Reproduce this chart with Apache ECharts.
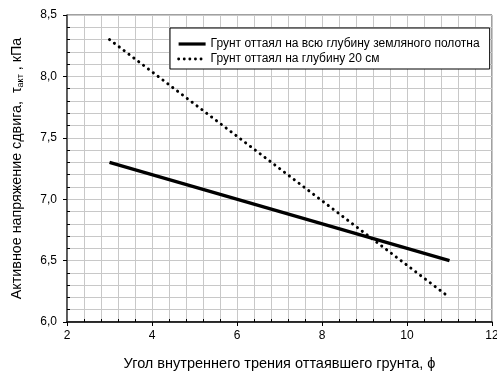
<!DOCTYPE html>
<html>
<head>
<meta charset="utf-8">
<script src="https://cdn.jsdelivr.net/npm/echarts@6/dist/echarts.min.js"></script>
<style>html,body{margin:0;padding:0;background:#fff;}#c{width:497px;height:371px;}</style>
</head>
<body>
<div id="c"></div>
<script>
var xValues = [3, 11];
var seriesFull = [7.3, 6.5];
var series20 = [8.3, 6.2];
var seriesNames = ['Грунт оттаял на всю глубину земляного полотна', 'Грунт оттаял на глубину 20 см'];
var yTicks = {min: 6.0, max: 8.5, interval: 0.5};
var xTicks = {min: 2, max: 12, interval: 2};

function pairs(xs, ys) { return xs.map(function (x, i) { return [x, ys[i]]; }); }

var font = 'Liberation Sans, Arial, sans-serif';
var chart = echarts.init(document.getElementById('c'), null, {renderer: 'canvas'});
chart.setOption({
  animation: false,
  backgroundColor: '#fff',
  textStyle: {fontFamily: font},
  grid: {left: 67, right: 5, top: 15, bottom: 49, show: true, borderColor: '#404040', borderWidth: 1, outerBoundsMode: 'none', containLabel: false},
  legend: {
    orient: 'vertical', left: 170, top: 28,
    backgroundColor: '#fff', borderColor: '#000', borderWidth: 1,
    padding: [10, 10, 4, 7], itemGap: 3, itemWidth: 27, itemHeight: 14,
    itemStyle: {opacity: 0},
    textStyle: {fontFamily: font, fontSize: 12, color: '#000'},
    data: [
      {name: seriesNames[0], lineStyle: {width: 3.2}},
      {name: seriesNames[1], lineStyle: {width: 2.8, type: [0.1, 5.5], cap: 'round'}}
    ]
  },
  xAxis: [{
    type: 'value', min: xTicks.min, max: xTicks.max, interval: xTicks.interval,
    name: 'Угол внутреннего трения оттаявшего грунта, ϕ',
    nameLocation: 'middle', nameGap: 34,
    nameTextStyle: {fontFamily: font, fontSize: 14.5, color: '#000'},
    axisLine: {show: true, lineStyle: {color: '#000', width: 1.5}},
    axisTick: {show: true, inside: false, length: 4, lineStyle: {color: '#000'}},
    axisLabel: {fontFamily: font, fontSize: 12, color: '#000', margin: 8, formatter: function (v) { return String(v); }},
    splitLine: {show: true, lineStyle: {color: '#c8c8c8', width: 1}},
    minorTick: {show: false, splitNumber: 5},
    minorSplitLine: {show: true, lineStyle: {color: '#c8c8c8', width: 1}}
  }, {
    type: 'value', min: xTicks.min, max: xTicks.max, interval: xTicks.interval, position: 'bottom',
    axisLine: {show: false}, axisLabel: {show: false}, splitLine: {show: false},
    axisTick: {show: false, inside: true},
    minorTick: {show: true, splitNumber: 5, length: 3, lineStyle: {color: '#000'}}
  }],
  yAxis: [{
    type: 'value', min: yTicks.min, max: yTicks.max, interval: yTicks.interval,
    name: '{n|Активное напряжение сдвига,  τ}{s|акт}{n| , кПа}',
    nameLocation: 'middle', nameGap: 42, nameRotate: 90,
    nameTextStyle: {fontFamily: font, fontSize: 14.3, color: '#000',
      rich: {n: {fontFamily: font, fontSize: 14.3, color: '#000'}, s: {fontFamily: font, fontSize: 9, color: '#000', verticalAlign: 'bottom', padding: [7, 0, 0, 0]}}},
    axisLine: {show: true, lineStyle: {color: '#404040', width: 1.5}},
    axisTick: {show: true, inside: false, length: 4, lineStyle: {color: '#000'}},
    axisLabel: {fontFamily: font, fontSize: 12, color: '#000', margin: 10, formatter: function (v) { return v.toFixed(1).replace('.', ','); }},
    splitLine: {show: true, lineStyle: {color: '#c8c8c8', width: 1}},
    minorTick: {show: false, splitNumber: 5},
    minorSplitLine: {show: true, lineStyle: {color: '#c8c8c8', width: 1}}
  }, {
    type: 'value', min: yTicks.min, max: yTicks.max, interval: yTicks.interval, position: 'left',
    axisLine: {show: false}, axisLabel: {show: false}, splitLine: {show: false},
    axisTick: {show: false, inside: true},
    minorTick: {show: true, splitNumber: 5, length: 3, lineStyle: {color: '#000'}}
  }],
  series: [
    {name: seriesNames[0], type: 'line', data: pairs(xValues, seriesFull), symbol: 'none',
      lineStyle: {color: '#000', width: 3.2}, itemStyle: {color: '#000'}},
    {name: seriesNames[1], type: 'line', data: pairs(xValues, series20), symbol: 'none',
      lineStyle: {color: '#000', width: 3, type: [0.1, 6], cap: 'round'}, itemStyle: {color: '#000'}}
  ]
});
</script>
</body>
</html>
